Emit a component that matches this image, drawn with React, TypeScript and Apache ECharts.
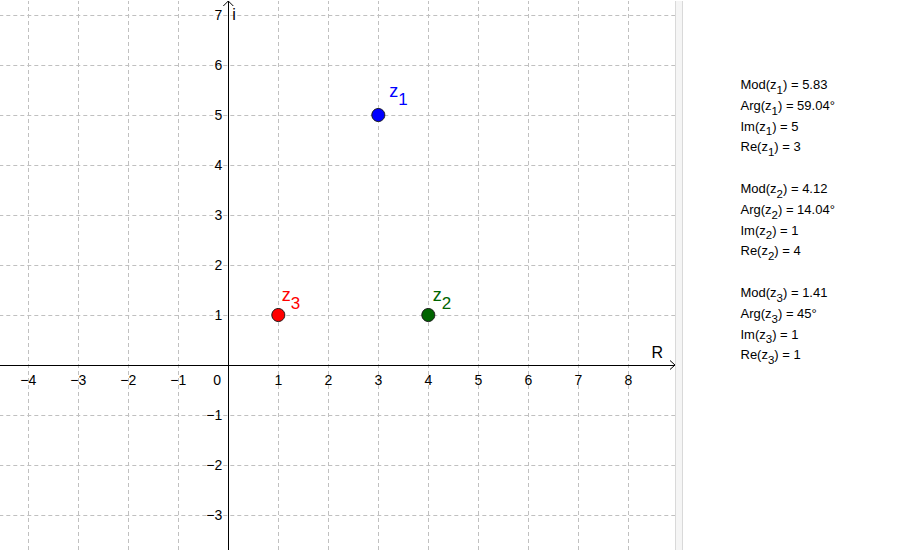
import React, { useEffect, useRef } from 'react';
import * as echarts from 'echarts';

// ---- data ----
const pointNames = ['1', '2', '3'];
const realParts = [3, 4, 1];
const imagParts = [5, 1, 1];
const xTickRange = [-5, 9];
const yTickRange = [-4, 8];
const axisNames = ['R', 'i'];

// ---- styles / layout ----
const pointColors = ['#0000ff', '#006400', '#ff0000'];
const labelOffsets = [
  [10.5, -24.5],
  [4, -20.5],
  [3, -20.5],
];
const FONT = '"Liberation Sans", Arial, Helvetica, sans-serif';
const SYMBOL = 13;
const TICK_FONT = 14;
const ORIGIN_X = 228.3;
const ORIGIN_Y = 365;
const UNIT = 50;
const PLOT_RIGHT = 675;
const PANEL_X = 740.5;
const PANEL_Y0 = 84.5;
const PANEL_STEP = 20.8;

const fmt = (v: number) => String(Number(v.toFixed(2)));
const tick = (v: number) => (v < 0 ? '\u2212' + Math.abs(v) : String(v));

export default function App() {
  const ref = useRef<HTMLDivElement>(null);

  useEffect(() => {
    const chart = echarts.init(ref.current!, null, { renderer: 'svg' });

    const data = realParts.map((re, i) => ({
      value: [re, imagParts[i]],
      itemStyle: { color: pointColors[i] },
      label: {
        show: true,
        position: 'right',
        distance: 0,
        align: 'left',
        verticalAlign: 'middle',
        lineHeight: 20,
        offset: [labelOffsets[i][0] - SYMBOL / 2, labelOffsets[i][1]],
        formatter: `{z|z}{s|${pointNames[i]}}`,
        rich: {
          z: { fontSize: 18, color: pointColors[i], fontFamily: FONT, lineHeight: 20 },
          s: {
            fontSize: 17,
            color: pointColors[i],
            fontFamily: FONT,
            lineHeight: 20,
            padding: [17, 0, 0, 0],
          },
        },
      },
    }));

    const splitStyle = { color: '#c0c0c0', width: 1, type: [4, 3] };
    const gridLeft = ORIGIN_X + xTickRange[0] * UNIT;
    const gridTop = ORIGIN_Y - yTickRange[1] * UNIT;
    const gridW = (xTickRange[1] - xTickRange[0]) * UNIT;
    const gridH = (yTickRange[1] - yTickRange[0]) * UNIT;

    chart.setOption({
      animation: false,
      backgroundColor: '#ffffff',
      textStyle: { fontFamily: FONT },
      grid: {
        left: gridLeft,
        top: gridTop,
        width: gridW,
        height: gridH,
        containLabel: false,
        outerBoundsMode: 'none',
      },
      xAxis: {
        type: 'value',
        min: xTickRange[0],
        max: xTickRange[1],
        interval: 1,
        position: 'bottom',
        offset: -(gridTop + gridH - ORIGIN_Y),
        axisLine: { show: true, onZero: false, lineStyle: { color: '#000', width: 1 } },
        axisTick: { show: false },
        splitLine: { show: true, lineStyle: splitStyle },
        axisLabel: {
          color: '#000',
          fontSize: TICK_FONT,
          fontFamily: FONT,
          margin: 14.5,
          verticalAlign: 'middle',
          showMinLabel: true,
          showMaxLabel: true,
          hideOverlap: false,
          formatter: (v: number) =>
            v === 0 || v === xTickRange[0] || v === xTickRange[1] ? '' : tick(v),
        },
      },
      yAxis: {
        type: 'value',
        min: yTickRange[0],
        max: yTickRange[1],
        interval: 1,
        position: 'left',
        offset: -(ORIGIN_X - gridLeft),
        axisLine: { show: true, onZero: false, lineStyle: { color: '#000', width: 1 } },
        axisTick: { show: false },
        splitLine: { show: true, lineStyle: splitStyle },
        axisLabel: {
          color: '#000',
          fontSize: TICK_FONT,
          fontFamily: FONT,
          margin: 6,
          showMinLabel: true,
          showMaxLabel: true,
          hideOverlap: false,
          formatter: (v: number) =>
            v === 0 || v === yTickRange[0] || v === yTickRange[1] ? '' : tick(v),
        },
      },
      series: [
        {
          type: 'scatter',
          symbol: 'circle',
          symbolSize: SYMBOL,
          itemStyle: { borderColor: '#1a1a1a', borderWidth: 1, opacity: 1 },
          emphasis: { disabled: true },
          data,
          z: 10,
        },
      ],
    });

    const o = chart.convertToPixel({ gridIndex: 0 }, [0, 0]) as number[];

    const panelLines: string[] = [];
    realParts.forEach((re, i) => {
      const im = imagParts[i];
      const n = pointNames[i];
      const mod = Math.sqrt(re * re + im * im);
      const arg = (Math.atan2(im, re) * 180) / Math.PI;
      panelLines.push(`{m|Mod(z}{s|${n}}{m|) = ${fmt(mod)}}`);
      panelLines.push(`{m|Arg(z}{s|${n}}{m|) = ${fmt(arg)}°}`);
      panelLines.push(`{m|Im(z}{s|${n}}{m|) = ${fmt(im)}}`);
      panelLines.push(`{m|Re(z}{s|${n}}{m|) = ${fmt(re)}}`);
      panelLines.push('');
    });

    const panelTexts = panelLines
      .map((t, k) =>
        t
          ? {
              type: 'text',
              x: PANEL_X,
              y: PANEL_Y0 + PANEL_STEP * k,
              z: 100,
              style: {
                text: t,
                align: 'left',
                verticalAlign: 'middle',
                lineHeight: 16,
                fontFamily: FONT,
                fontSize: 13,
                fill: '#000',
                rich: {
                  m: { fontSize: 13, fontFamily: FONT, fill: '#000', lineHeight: 16 },
                  s: {
                    fontSize: 11.5,
                    fontFamily: FONT,
                    fill: '#000',
                    lineHeight: 16,
                    padding: [10.5, 0, 0, 0],
                  },
                },
              },
            }
          : null
      )
      .filter(Boolean);

    chart.setOption({
      graphic: [
        {
          type: 'rect',
          z: 100,
          shape: { x: PLOT_RIGHT + 0.5, y: -2, width: 7, height: 560 },
          style: { fill: '#f5f5f5', stroke: '#d9d9d9', lineWidth: 1 },
        },
        {
          type: 'polyline',
          z: 101,
          shape: {
            points: [
              [PLOT_RIGHT - 5, o[1] - 4.5],
              [PLOT_RIGHT, o[1]],
              [PLOT_RIGHT - 5, o[1] + 4.5],
            ],
          },
          style: { stroke: '#000', lineWidth: 1, fill: null },
        },
        {
          type: 'polyline',
          z: 101,
          shape: {
            points: [
              [o[0] - 5, 6],
              [o[0], 1],
              [o[0] + 5, 6],
            ],
          },
          style: { stroke: '#000', lineWidth: 1, fill: null },
        },
        {
          type: 'rect',
          z: 100,
          shape: { x: 0, y: 0, width: 900, height: 1 },
          style: { fill: '#ffffff' },
        },
        {
          type: 'text',
          z: 101,
          x: PLOT_RIGHT - 23.5,
          y: o[1] - 12.5,
          style: {
            text: axisNames[0],
            fontSize: 16,
            fontFamily: FONT,
            fill: '#000',
            align: 'left',
            verticalAlign: 'middle',
          },
        },
        {
          type: 'text',
          z: 101,
          x: o[0] + 4,
          y: 14.5,
          style: {
            text: axisNames[1],
            fontSize: 16,
            fontFamily: FONT,
            fill: '#000',
            align: 'left',
            verticalAlign: 'middle',
          },
        },
        {
          type: 'text',
          z: 101,
          x: o[0] - 7.3,
          y: o[1] + 14.5,
          style: {
            text: '0',
            fontSize: TICK_FONT,
            fontFamily: FONT,
            fill: '#000',
            align: 'right',
            verticalAlign: 'middle',
          },
        },
        ...panelTexts,
      ],
    });

    return () => chart.dispose();
  }, []);

  return (
    <div
      ref={ref}
      style={{ position: 'absolute', left: 0, top: 0, width: 900, height: 550, background: '#fff' }}
    />
  );
}
